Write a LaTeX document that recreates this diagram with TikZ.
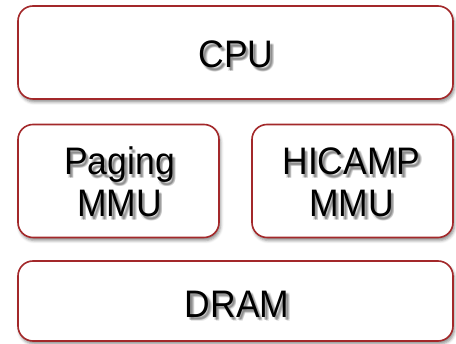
\documentclass[tikz,border=0pt]{standalone}
\usepackage{graphicx}
\usepackage{fontspec}
\setmainfont{Liberation Sans}
\usetikzlibrary{shadows.blur}
\definecolor{boxred}{HTML}{A3282A}
% taller sans lettering
\newcommand\tallword[1]{\scalebox{1}[1.08]{#1}}
\tikzset{
  unit/.style={draw=boxred, line width=1.6pt, rounded corners=15pt, fill=white,
    blur shadow={shadow xshift=1.5pt, shadow yshift=-3pt, shadow blur radius=3pt, shadow opacity=45},
    inner sep=0pt},
  word/.style={font=\fontsize{35.5}{42}\selectfont, anchor=base, inner sep=0pt, text=black},
  wordshade/.style={word, text=black, opacity=0.09}
}
% a word with a soft drop shadow, placed on its baseline
\newcommand\shadedword[3]{%
  \foreach \dx/\dy in {2/2.5,3/3.5,2.5/3,3.5/2.5,1.5/3.5,3.5/4}
    \node[wordshade] at (#1+\dx,#2+\dy) {\tallword{#3}};
  \node[word] at (#1,#2) {\tallword{#3}};
}
\begin{document}
\begin{tikzpicture}[x=1pt,y=-1pt]
\useasboundingbox (0,0) rectangle (456,344);
\node[unit, minimum width=435pt, minimum height=93pt] (cpu) at (235.5,52.5) {};
\node[unit, minimum width=201pt, minimum height=113pt] (paging) at (118.5,181) {};
\node[unit, minimum width=201pt, minimum height=113pt] (hicamp) at (352.5,181) {};
\node[unit, minimum width=435pt, minimum height=80pt] (dram) at (235.5,301) {};
\shadedword{236}{68}{CPU}
\shadedword{119.5}{175}{Paging}
\shadedword{119.5}{217}{MMU}
\shadedword{351.5}{175}{HICAMP}
\shadedword{351.5}{217}{MMU}
\shadedword{237}{317.5}{DRAM}
\end{tikzpicture}
\end{document}
